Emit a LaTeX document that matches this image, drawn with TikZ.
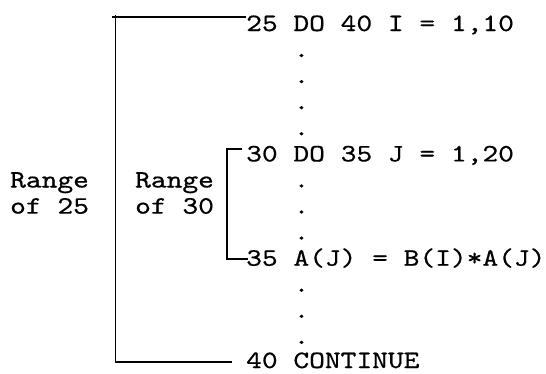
\documentclass[tikz,border=0pt]{standalone}
\usepackage{fontspec}
\setmonofont{lmmono10-regular.otf}[FakeStretch=1.2, FakeBold=0.6]
\begin{document}
\begin{tikzpicture}[x=1pt, y=-1pt,
    code/.style={anchor=base west, inner sep=0pt, font=\ttfamily\fontsize{25}{26}\selectfont},
    brace/.style={line width=1.8pt}]
    \useasboundingbox (0,0) rectangle (546,373);
    \node[code] (l25) at (246,31.0) {25 DO 40 I = 1,10};
    \node[code] (l30) at (246,161.4) {30 DO 35 J = 1,20};
    \node[code] (l35) at (246,265.7) {35 A(J) = B(I)*A(J)};
    \node[code] (l40) at (246,368) {40 CONTINUE};
    \foreach \k in {1,2,3,4,6,7,8,10,11,12}
        \node[code] (dot\k) at (293.4,31+26.08*\k) {.};
    \node[code] (rng25a) at (10,187.5) {Range};
    \node[code] (rng25b) at (10,213.6) {of 25};
    \node[code] (rng30a) at (135,187.5) {Range};
    \node[code] (rng30b) at (135,213.6) {of 30};
    \coordinate (o1) at (115.5,17.3);
    \coordinate (o2) at (115.5,362);
    \coordinate (i1) at (227,149.3);
    \coordinate (i2) at (227,259.3);
    \draw[brace] (l25.west |- o1) -- ([xshift=-3.5pt]o1);
    \draw[brace] ([yshift=2pt]o1) -- (o2) -- ([xshift=-14pt]l40.west |- o2);
    \draw[brace] ([xshift=-4pt]l30.west |- i1) -- (i1) -- (i2) -- ([xshift=2pt]l35.west |- i2);
\end{tikzpicture}
\end{document}
